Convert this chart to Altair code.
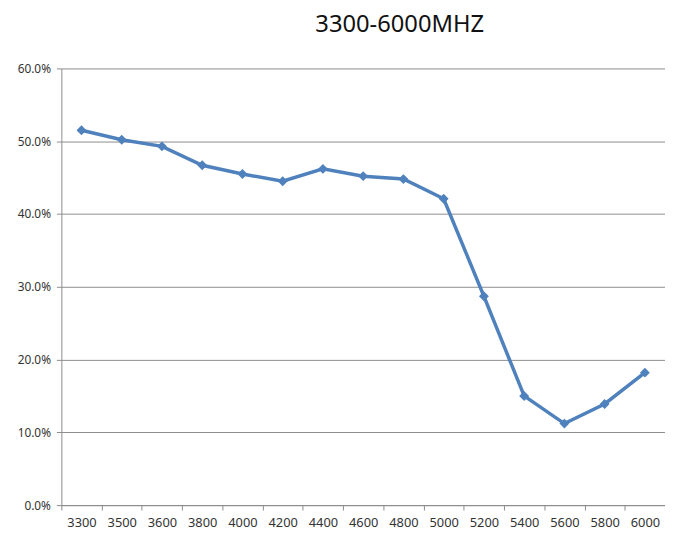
import altair as alt
import pandas as pd

freqs = ["3300", "3500", "3600", "3800", "4000", "4200", "4400", "4600",
         "4800", "5000", "5200", "5400", "5600", "5800", "6000"]
values = [0.515, 0.502, 0.493, 0.467, 0.455, 0.445, 0.462, 0.452,
          0.448, 0.421, 0.287, 0.150, 0.112, 0.139, 0.182]

df = pd.DataFrame({"freq": freqs, "val": values})

FONT = "Noto Sans"

chart = alt.Chart(df).mark_line(
    color="#4F81BD", strokeWidth=3.5,
    point=alt.OverlayMarkDef(shape="diamond", size=100, color="#4F81BD", filled=True, opacity=1),
).encode(
    x=alt.X("freq:N", sort=freqs, title=None,
            scale=alt.Scale(type="band", paddingInner=0, paddingOuter=0),
            axis=alt.Axis(labelAngle=0, tickBand="extent", grid=False,
                          domainColor="#8c8c8c", tickColor="#8c8c8c", tickSize=5,
                          labelFont=FONT, labelFontSize=13, labelColor="#333333",
                          labelPadding=7)),
    y=alt.Y("val:Q", title=None,
            scale=alt.Scale(domain=[0, 0.6], nice=False),
            axis=alt.Axis(values=[0, 0.1, 0.2, 0.3, 0.4, 0.5, 0.6], format=".1%",
                          gridColor="#8c8c8c", gridWidth=1,
                          domainColor="#8c8c8c", tickColor="#8c8c8c", tickSize=5,
                          labelFont=FONT, labelFontSize=12, labelColor="#333333",
                          labelPadding=6)),
).properties(
    width=611, height=442,
    title=alt.TitleParams("3300-6000MHZ", font=FONT, fontSize=24, fontWeight="normal",
                          color="#111111", anchor="middle", dx=37, offset=26),
    autosize=alt.AutoSizeParams(type="none"),
    padding={"left": 54, "top": 58, "right": 0, "bottom": 22},
).configure_view(stroke=None)

chart.save("out.html", embed_options={"renderer": "svg", "actions": False})
